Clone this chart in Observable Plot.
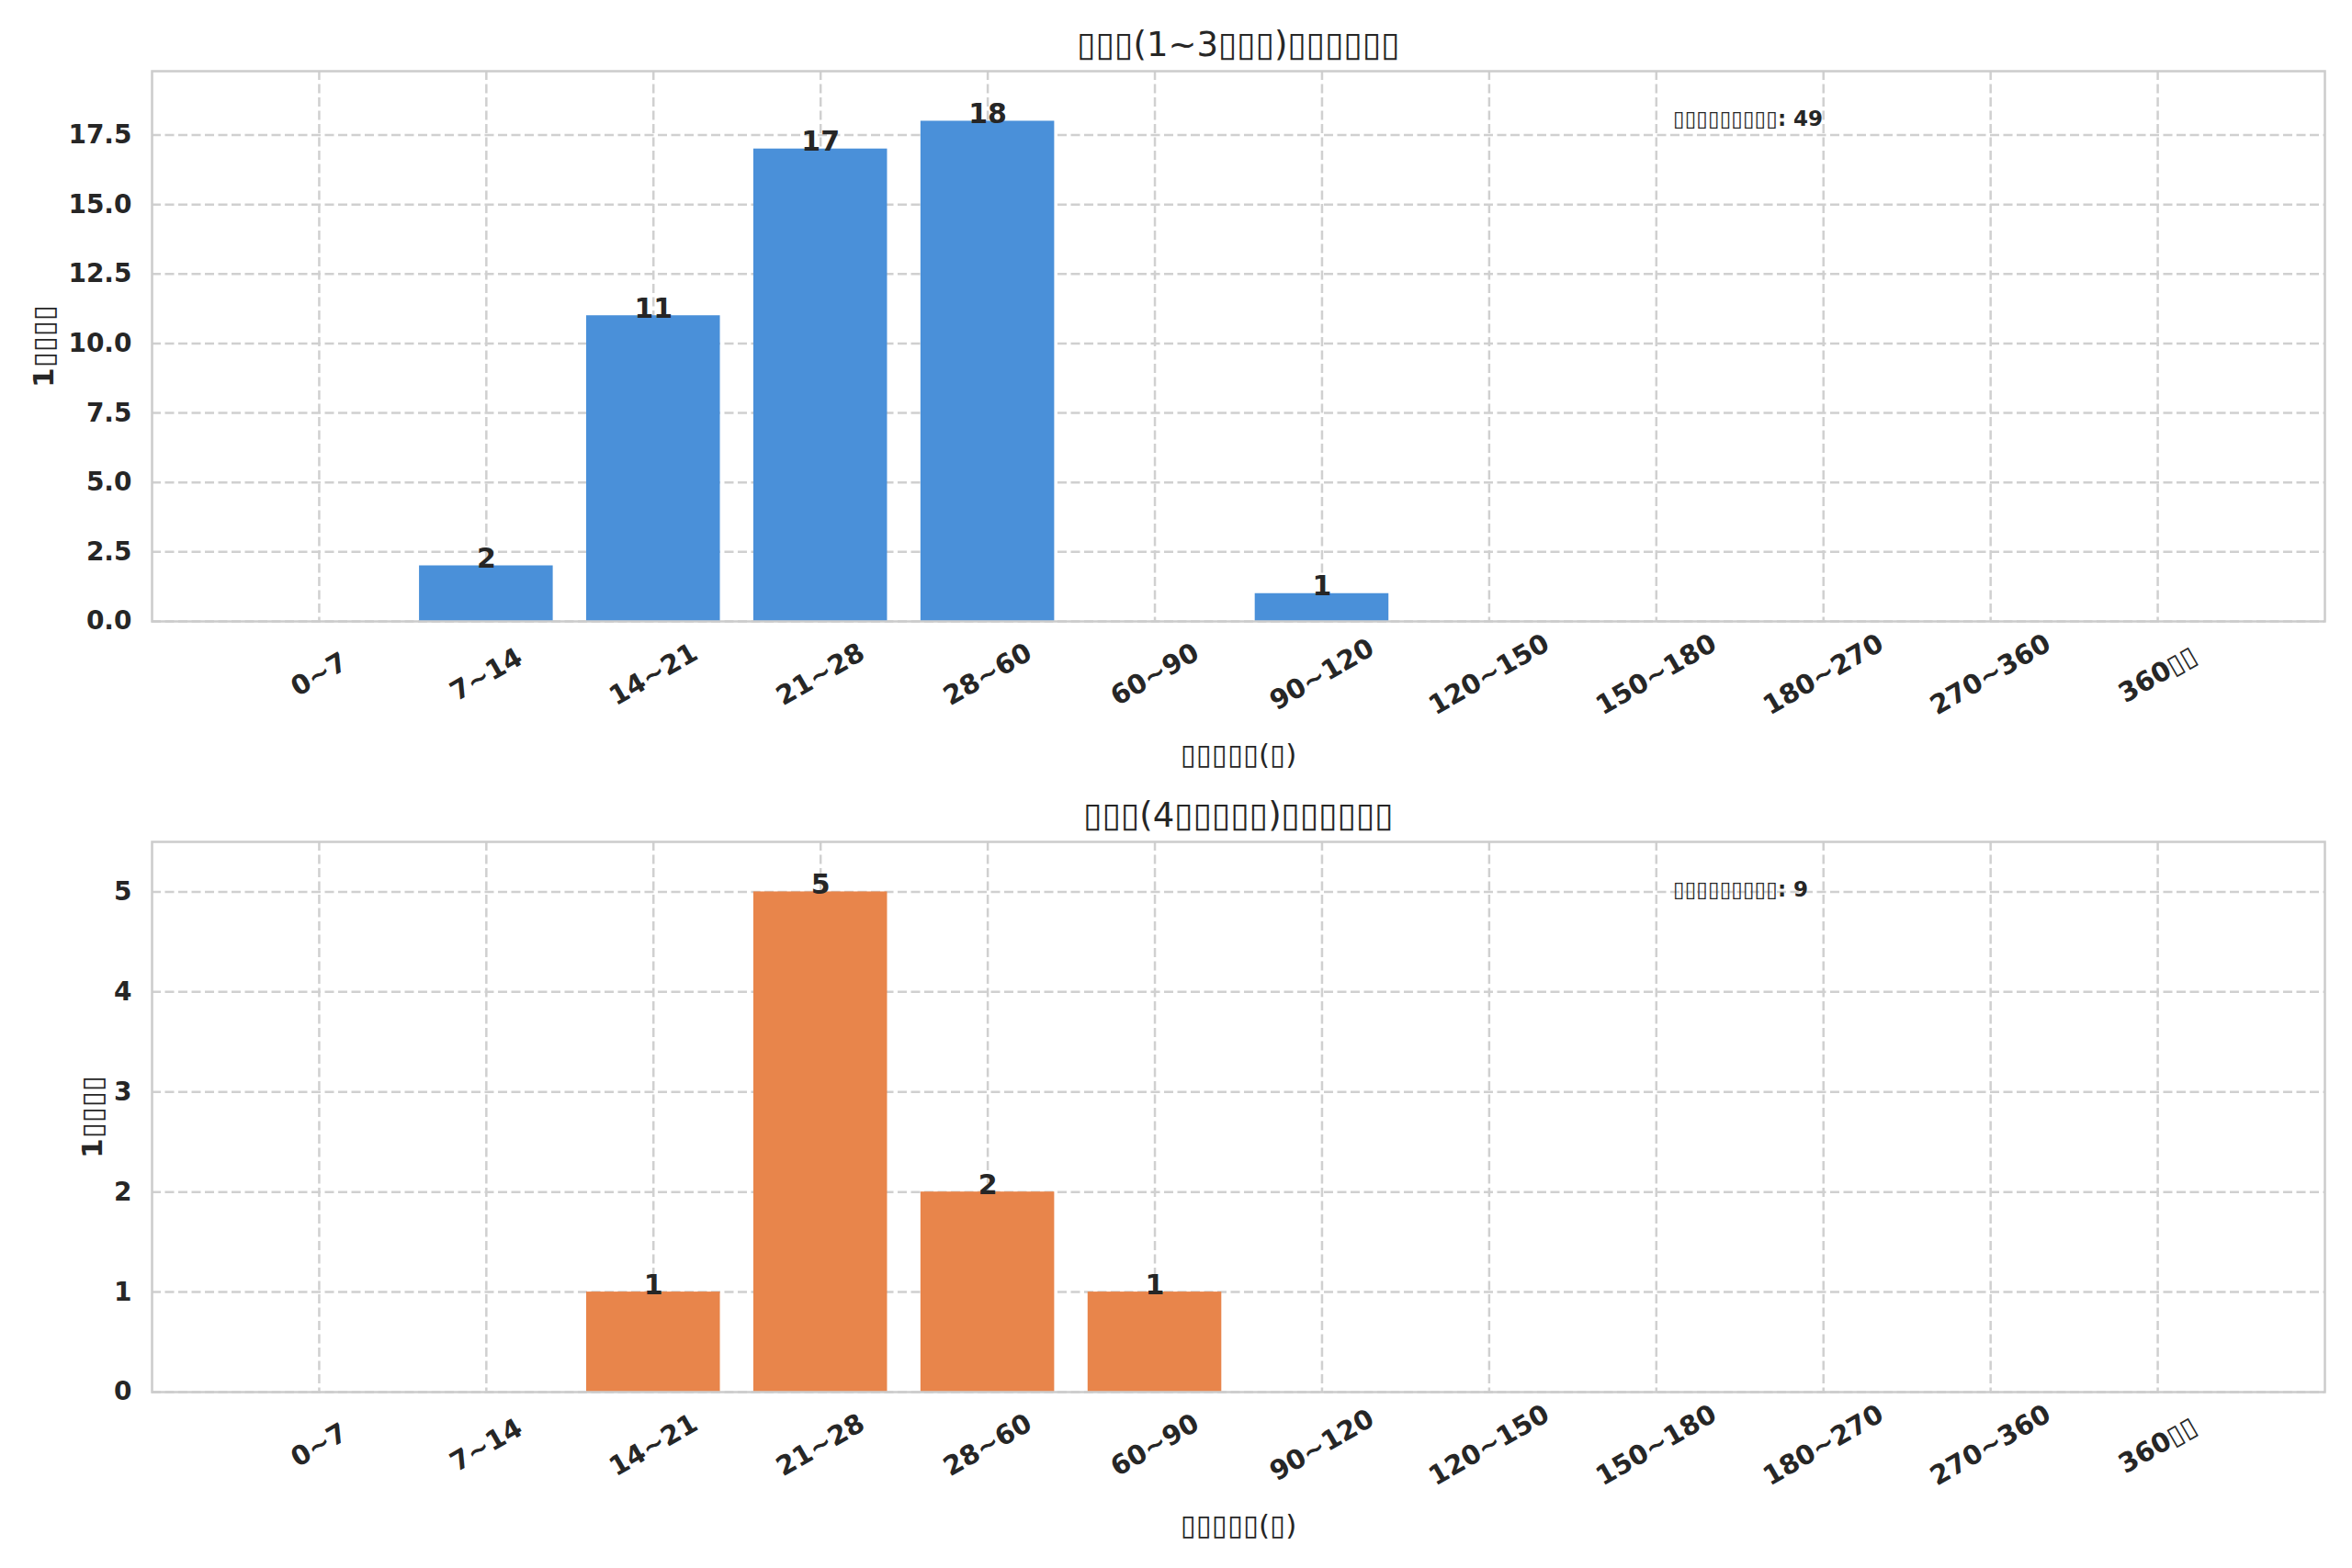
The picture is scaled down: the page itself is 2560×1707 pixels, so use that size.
<!DOCTYPE html>
<html>
<head>
<meta charset="utf-8">
<script src="https://cdn.jsdelivr.net/npm/d3@7"></script>
<script src="https://cdn.jsdelivr.net/npm/@observablehq/plot@0.6"></script>
<style>
  html, body { margin: 0; padding: 0; background: #ffffff; }
  #chart { width: 2560px; }
  svg { display: block; font-family: "DejaVu Sans", sans-serif; }
</style>
</head>
<body>
<div id="chart"></div>
<script>
// ---- data ----
const categories = ["0~7", "7~14", "14~21", "21~28", "28~60", "60~90", "90~120", "120~150", "150~180", "180~270", "270~360", "360▯▯"];
const countsShort = [0, 2, 11, 17, 18, 0, 1, 0, 0, 0, 0, 0];
const countsLong = [0, 0, 1, 5, 2, 1, 0, 0, 0, 0, 0, 0];
const titleShort = "▯▯▯(1~3▯▯▯)▯▯▯▯▯▯";
const titleLong = "▯▯▯(4▯▯▯▯▯)▯▯▯▯▯▯";
const xLabel = "▯▯▯▯▯(▯)";
const yLabel = "1▯▯▯▯";
const totalLabel = "▯▯▯▯▯▯▯▯▯: ";
const yTicksShort = [0, 2.5, 5, 7.5, 10, 12.5, 15, 17.5];
const yTicksLong = [0, 1, 2, 3, 4, 5];

const W = 2560;
const INK = "#262626";
const GRID = "#d0d0d0";

function panel({counts, color, title, yTicks, yDomain, yFmt, height, marginTop, marginBottom, yLabelDx}) {
  const data = categories.map((c, i) => ({c, v: counts[i]}));
  const total = d3.sum(counts);
  const marginLeft = 165, marginRight = 30;
  const frameW = W - marginLeft - marginRight;
  return Plot.plot({
    width: W,
    height,
    marginTop, marginBottom, marginLeft, marginRight,
    style: {fontFamily: "DejaVu Sans, sans-serif", background: "#ffffff", overflow: "visible"},
    x: {type: "band", domain: categories, paddingInner: 0.2, paddingOuter: 0.6, round: false, axis: null},
    y: {domain: yDomain, axis: null},
    marks: [
      Plot.gridY(yTicks, {stroke: GRID, strokeOpacity: 1, strokeWidth: 2.5, strokeDasharray: "10,4.5"}),
      Plot.ruleX(categories, {x: d => d, stroke: GRID, strokeOpacity: 1, strokeWidth: 2.5, strokeDasharray: "10,4.5"}),
      Plot.barY(data, {x: "c", y: "v", fill: color}),
      Plot.frame({stroke: "#cccccc", strokeWidth: 2.5}),
      Plot.axisY(yTicks, {tickSize: 0, tickPadding: 22, tickFormat: yFmt, fontSize: 28, fontWeight: "bold", fill: INK, label: null}),
      Plot.text(categories, {x: d => d, text: d => d, frameAnchor: "bottom", dy: 58, rotate: -30, textAnchor: "middle", lineAnchor: "middle", fontSize: 29, fontWeight: "bold", fill: INK}),
      Plot.text(data.filter(d => d.v > 0), {x: "c", y: "v", text: d => String(d.v), lineAnchor: "bottom", dy: 2, fontSize: 30, fontWeight: "bold", fill: INK}),
      Plot.text([title], {frameAnchor: "top", dy: -28, lineAnchor: "middle", fontSize: 37, fill: INK}),
      Plot.text([xLabel], {frameAnchor: "bottom", dy: 146, lineAnchor: "middle", fontSize: 31, fill: INK}),
      Plot.text([yLabel], {frameAnchor: "left", dx: yLabelDx, rotate: -90, textAnchor: "middle", lineAnchor: "middle", fontSize: 31, fontWeight: "bold", fill: INK}),
      Plot.text([totalLabel + total], {frameAnchor: "top-left", dx: 0.7 * frameW, dy: 52, textAnchor: "start", lineAnchor: "middle", fontSize: 23, fontWeight: "bold", fill: INK})
    ]
  });
}

const chart = document.getElementById("chart");
chart.append(panel({
  counts: countsShort, color: "#4a90d9", title: titleShort,
  yTicks: yTicksShort, yDomain: [0, 19.8], yFmt: d => d.toFixed(1),
  height: 853, marginTop: 77, marginBottom: 177, yLabelDx: -117
}));
chart.append(panel({
  counts: countsLong, color: "#e8854b", title: titleLong,
  yTicks: yTicksLong, yDomain: [0, 5.5], yFmt: d => String(d),
  height: 854, marginTop: 63, marginBottom: 192, yLabelDx: -64
}));
</script>
</body>
</html>
